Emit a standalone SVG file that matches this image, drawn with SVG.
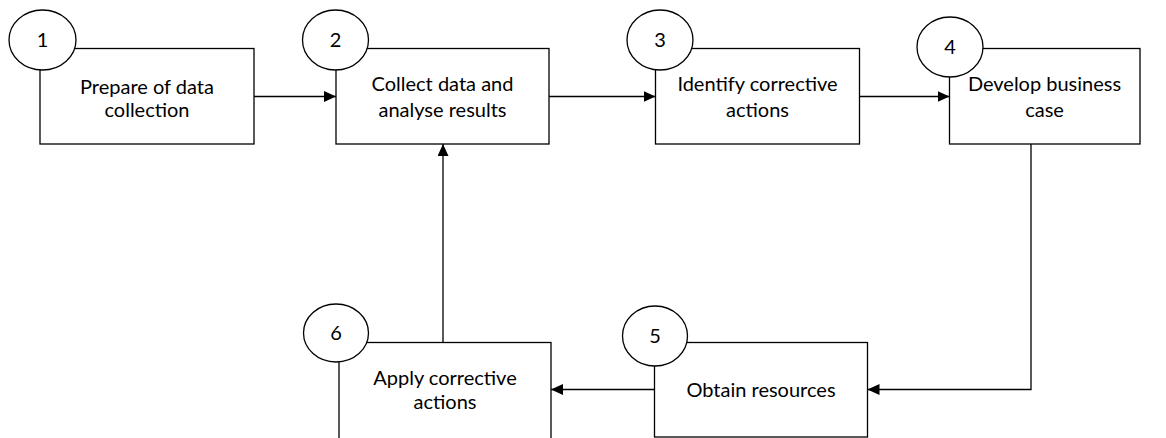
<svg xmlns="http://www.w3.org/2000/svg" width="1166" height="438" viewBox="0 0 1166 438">
  <style>
    .box { fill: #fff; stroke: #000; stroke-width: 1.3; }
    .badge { fill: #fff; stroke: #000; stroke-width: 1.3; }
    .label { font-family: Lato, "Liberation Sans", sans-serif; font-size: 20px; fill: #000; text-anchor: middle; }
    .num { font-family: Lato, "Liberation Sans", sans-serif; font-size: 20px; fill: #000; text-anchor: middle; }
    .link { fill: none; stroke: #000; stroke-width: 1.3; }
  </style>
  <defs>
    <marker id="arrow" viewBox="0 0 12 11" refX="12" refY="5.5" markerWidth="12" markerHeight="11" markerUnits="userSpaceOnUse" orient="auto">
      <path d="M0,0 L12,5.5 L0,11 Z" fill="#000"/>
    </marker>
  </defs>
  <rect width="1166" height="438" fill="#fff"/>

  <!-- process steps -->
  <g id="step1">
    <rect class="box" x="40" y="48.5" width="214" height="95.5"/>
    <text class="label" x="147" y="94">Prepare of data</text>
    <text class="label" x="147" y="117">collection</text>
    <ellipse class="badge" cx="42.5" cy="40" rx="33.5" ry="30"/>
    <text class="num" x="42.5" y="47">1</text>
  </g>

  <g id="step2">
    <rect class="box" x="336" y="48.5" width="213" height="95.5"/>
    <text class="label" x="442.5" y="91">Collect data and</text>
    <text class="label" x="442.5" y="117">analyse results</text>
    <ellipse class="badge" cx="335.5" cy="40" rx="33" ry="30"/>
    <text class="num" x="335.5" y="47">2</text>
  </g>

  <g id="step3">
    <rect class="box" x="655.5" y="48.5" width="204" height="95.5"/>
    <text class="label" x="757.5" y="91">Identify corrective</text>
    <text class="label" x="757.5" y="117">actions</text>
    <ellipse class="badge" cx="660" cy="40" rx="33" ry="30"/>
    <text class="num" x="660" y="47">3</text>
  </g>

  <g id="step4">
    <rect class="box" x="949.5" y="48.5" width="190.5" height="95.5"/>
    <text class="label" x="1044.5" y="91">Develop business</text>
    <text class="label" x="1044.5" y="117">case</text>
    <ellipse class="badge" cx="950" cy="47" rx="33" ry="30"/>
    <text class="num" x="950" y="54">4</text>
  </g>

  <g id="step5">
    <rect class="box" x="654.5" y="342.5" width="213" height="94.5"/>
    <text class="label" x="761" y="397">Obtain resources</text>
    <ellipse class="badge" cx="655" cy="336" rx="32.5" ry="30"/>
    <text class="num" x="655" y="343">5</text>
  </g>

  <g id="step6">
    <rect class="box" x="339" y="342.5" width="212" height="100"/>
    <text class="label" x="445" y="385">Apply corrective</text>
    <text class="label" x="445" y="409">actions</text>
    <ellipse class="badge" cx="336" cy="333" rx="32.5" ry="29"/>
    <text class="num" x="336" y="340">6</text>
  </g>

  <!-- flow connectors -->
  <g id="connectors">
    <path class="link" d="M254,96.5 H336" marker-end="url(#arrow)"/>
    <path class="link" d="M549,96.5 H655.5" marker-end="url(#arrow)"/>
    <path class="link" d="M859.5,96.5 H949.5" marker-end="url(#arrow)"/>
    <path class="link" d="M1031,144 V389.5 H867.5" marker-end="url(#arrow)"/>
    <path class="link" d="M654.5,389.5 H551" marker-end="url(#arrow)"/>
    <path class="link" d="M443,342.5 V144" marker-end="url(#arrow)"/>
  </g>
</svg>
